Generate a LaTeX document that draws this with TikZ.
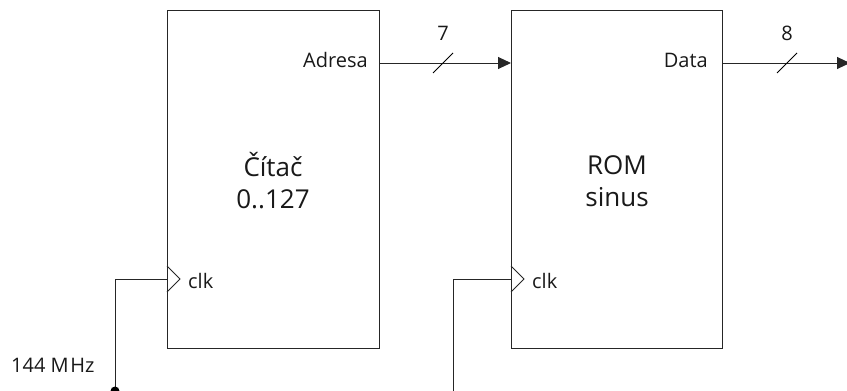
\documentclass[tikz,border=0pt]{standalone}
\usepackage{fontspec}
\setmainfont{Open Sans}
\usetikzlibrary{arrows.meta}
\begin{document}
\begin{tikzpicture}[x=1pt,y=-1pt,
  blk/.style={draw=black!85, line width=1pt, minimum width=212pt, minimum height=338pt, inner sep=0pt, anchor=north west},
  big/.style={font=\fontsize{26}{32}\selectfont, align=center, inner sep=0pt, text=black!90},
  lbl/.style={font=\fontsize{20}{23}\selectfont, inner sep=0pt, text=black!90},
  wire/.style={draw=black!85, line width=1pt},
  bus/.style={wire, -{Triangle[length=13pt,width=12pt]}},
  slash/.style={draw=black, line width=0.8pt}]
\useasboundingbox (0,0) rectangle (847,391);
% blocks
\node[blk] (cnt) at (167,10) {};
\node[blk, minimum width=211pt] (rom) at (511,10) {};
\node[big] (cnttxt) at (273,181) {Čítač\\0..127};
\node[big] (romtxt) at (617,181) {ROM\\sinus};
% clock pins
\coordinate (cntclk) at (167,279);
\coordinate (romclk) at (511,279);
\draw[wire] (167,266) -- (180,279) -- (167,292);
\draw[wire] (511,266) -- (524,279) -- (511,292);
\node[lbl, anchor=west] (cntclkl) at (188,281) {clk};
\node[lbl, anchor=west] (romclkl) at (532,281) {clk};
% ports
\coordinate (cntout) at (379,63);
\coordinate (romin) at (511,63);
\coordinate (romout) at (722,63);
\coordinate (dataend) at (850,63);
\node[lbl, anchor=east] (adr) at (368,60) {Adresa};
\node[lbl, anchor=east] (dat) at (708,60) {Data};
% buses
\draw[bus] (cntout) -- (romin);
\draw[bus] (romout) -- (dataend);
\draw[slash] (433,73) -- (453,53);
\draw[slash] (777,73) -- (797,53);
\node[lbl] (w7) at (443,33) {7};
\node[lbl] (w8) at (787,33) {8};
% clock source
\coordinate (src) at (115,391);
\coordinate (src2) at (453,393);
\draw[wire] (src) |- (cntclk);
\draw[wire] (src2) |- (romclk);
\fill[black] (src) circle (4.5pt);
\node[lbl, anchor=west] (freq) at (11,365) {144 M\kern1.5pt Hz};
\end{tikzpicture}
\end{document}
